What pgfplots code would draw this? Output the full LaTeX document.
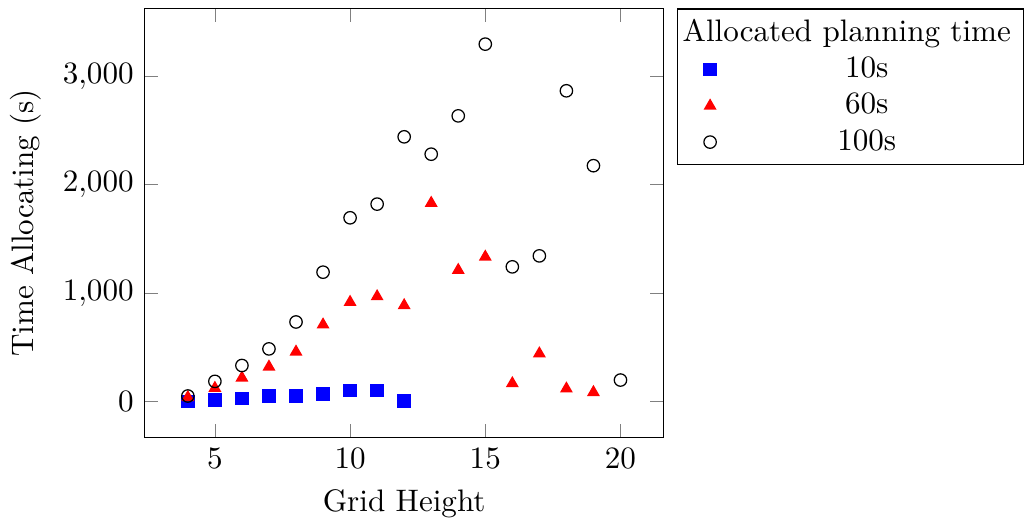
\documentclass[border=0pt]{standalone}
\usepackage{pgfplots}
\pgfplotsset{compat=1.18}
\begin{document}
\begin{tikzpicture}
\begin{axis}[
    scale only axis,
    width=167pt,
    height=138pt,
    xlabel={Grid Height},
    ylabel={Time Allocating (s)},
    xtick={5,10,15,20},
    ytick={0,1000,2000,3000},
    legend style={at={(1.025,1)}, anchor=north west,
        inner xsep=2pt, inner ysep=1.5pt,
        nodes={inner xsep=2pt, inner ysep=1.75pt}},
    legend cell align={center},
]
\addlegendimage{empty legend}
\addlegendentry{\hspace{-.45cm}Allocated planning time}
\addplot[only marks, mark=square*, color=blue]
    coordinates {
        (4,0) (5,18) (6,30) (7,49) (8,55) (9,73) (10,104) (11,104) (12,6)
    };
\addlegendentry{10s}
\addplot[only marks, mark=triangle*, color=red]
    coordinates {
        (4,40) (5,125) (6,220) (7,321) (8,459) (9,709) (10,917) (11,969)
        (12,887) (13,1830) (14,1212) (15,1334) (16,168) (17,443) (18,119) (19,86)
    };
\addlegendentry{60s}
\addplot[only marks, mark=o, color=black]
    coordinates {
        (4,52) (5,187) (6,333) (7,486) (8,734) (9,1193) (10,1694) (11,1820)
        (12,2440) (13,2280) (14,2633) (15,3294) (16,1242) (17,1343)
        (18,2864) (19,2174) (20,199)
    };
\addlegendentry{100s}
\end{axis}
% a little room above the axis, as in the reference
\path ([yshift=2.5pt]current bounding box.north);
\end{tikzpicture}
\end{document}
